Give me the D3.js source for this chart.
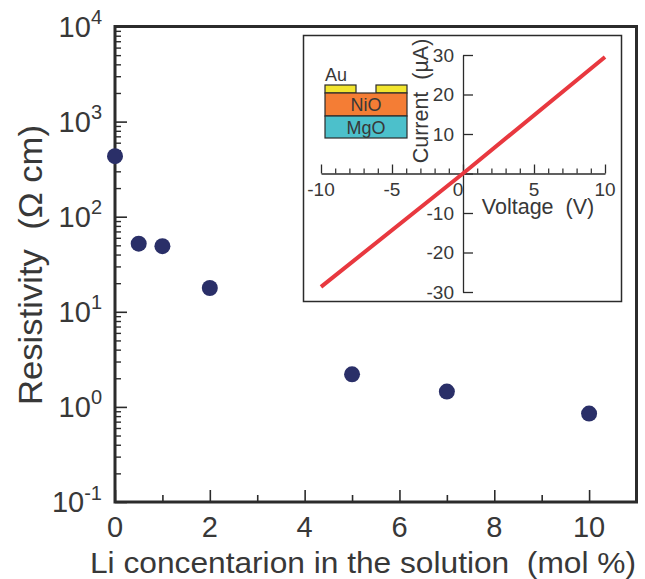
<!DOCTYPE html>
<html>
<head>
<meta charset="utf-8">
<script src="https://d3js.org/d3.v7.min.js"></script>
<style>
  html, body { margin: 0; padding: 0; background: #fff; }
  text { font-family: "Liberation Sans", Arial, sans-serif; fill: #383838; }
</style>
</head>
<body>
<div id="chart"></div>
<script>
// main plot: Li concentration vs resistivity
const liConc = [0, 0.5, 1, 2, 5, 7, 10];
const resistivity = [433, 52, 49, 17.8, 2.2, 1.45, 0.85];
const xMajor = [0, 2, 4, 6, 8, 10];
const xMinor = [1, 3, 5, 7, 9];
const decades = [-1, 0, 1, 2, 3, 4];

// inset: I-V curve
const voltage = [-10, 0, 10];
const current = [-28.7, 0, 29.5];
const vMajor = [-10, -5, 0, 5, 10];
const vMinor = d3.range(-10, 11).filter(d => d % 5 !== 0);
const iTicks = [-30, -20, -10, 0, 10, 20, 30];

const width = 645, height = 579;
const ink = "#2b2b2b";

const svg = d3.select("#chart").append("svg")
    .attr("width", width)
    .attr("height", height)
    .style("display", "block");

const x = d3.scaleLinear().domain([0, 11]).range([115, 636.5]);
const y = d3.scaleLog().domain([0.1, 10000]).range([502, 26.5]);

// minor log ticks 2..9 in every decade
const yMinor = [];
decades.slice(0, -1).forEach(e => {
	d3.range(2, 10).forEach(m => yMinor.push(m * Math.pow(10, e)));
});
const yMajor = decades.map(e => Math.pow(10, e));

function cleanAxis(g) {
	g.select(".domain").remove();
	g.selectAll(".tick line").attr("stroke", ink);
	g.selectAll(".tick text").remove();
}

svg.append("g")
	.attr("transform", "translate(0,502)")
	.call(d3.axisTop(x).tickValues(xMajor).tickSize(12).tickFormat(""))
	.call(cleanAxis)
	.selectAll("line").attr("stroke-width", 1.6);

svg.append("g")
	.attr("transform", "translate(0,502)")
	.call(d3.axisTop(x).tickValues(xMinor).tickSize(7).tickFormat(""))
	.call(cleanAxis)
	.selectAll("line").attr("stroke-width", 1.6);

svg.append("g")
	.attr("transform", "translate(115,0)")
	.call(d3.axisRight(y).tickValues(yMajor).tickSize(12).tickFormat(""))
	.call(cleanAxis)
	.selectAll("line").attr("stroke-width", 1.6);

svg.append("g")
	.attr("transform", "translate(115,0)")
	.call(d3.axisRight(y).tickValues(yMinor).tickSize(6).tickFormat(""))
	.call(cleanAxis)
	.selectAll("line").attr("stroke-width", 1.4);

svg.append("rect")
	.attr("x", x(0))
	.attr("y", y(10000))
	.attr("width", x(11) - x(0))
	.attr("height", y(0.1) - y(10000))
	.attr("fill", "none")
	.attr("stroke", ink)
	.attr("stroke-width", 3);

// tick labels
svg.append("g").selectAll("text")
	.data(xMajor)
	.join("text")
	.attr("x", d => x(d))
	.attr("y", 537)
	.attr("text-anchor", "middle")
	.attr("font-size", 29)
	.text(d => d);

const yLab = svg.append("g").selectAll("text")
	.data(decades)
	.join("text")
	.attr("x", 102)
	.attr("y", d => y(Math.pow(10, d)) + 10)
	.attr("text-anchor", "end")
	.attr("font-size", 29);
yLab.append("tspan").text("10");
yLab.append("tspan")
	.attr("dy", -12.5)
	.attr("font-size", 20)
	.text(d => d);

svg.append("text")
	.attr("x", 90)
	.attr("y", 573)
	.attr("font-size", 29)
	.attr("textLength", 546)
	.attr("lengthAdjust", "spacingAndGlyphs")
	.attr("xml:space", "preserve")
	.text("Li concentarion in the solution  (mol %)");

svg.append("text")
	.attr("transform", "translate(42,265) rotate(-90)")
	.attr("text-anchor", "middle")
	.attr("font-size", 33)
	.attr("textLength", 280)
	.attr("lengthAdjust", "spacingAndGlyphs")
	.attr("xml:space", "preserve")
	.text("Resistivity  (Ω cm)");

// data points
svg.append("g").selectAll("circle")
	.data(liConc)
	.join("circle")
	.attr("cx", d => x(d))
	.attr("cy", (d, i) => y(resistivity[i]))
	.attr("r", 8)
	.attr("fill", "#2a2f68");

// inset frame
svg.append("rect")
	.attr("x", 303.5)
	.attr("y", 35.5)
	.attr("width", 318)
	.attr("height", 266)
	.attr("fill", "#fff")
	.attr("stroke", ink)
	.attr("stroke-width", 1.5);

const vx = d3.scaleLinear().domain([-10, 10]).range([321, 605]);
const iy = d3.scaleLinear().domain([-30, 30]).range([292, 55]);

svg.append("g")
	.attr("transform", "translate(0," + iy(0) + ")")
	.call(d3.axisTop(vx).tickValues(vMajor).tickSize(9).tickFormat("").tickSizeOuter(0))
	.call(g => g.selectAll(".tick line").attr("stroke", ink).attr("stroke-width", 1.3))
	.call(g => g.select(".domain").attr("stroke", ink).attr("stroke-width", 1.3));

svg.append("g")
	.attr("transform", "translate(0," + iy(0) + ")")
	.call(d3.axisTop(vx).tickValues(vMinor).tickSize(5).tickFormat(""))
	.call(cleanAxis)
	.selectAll("line").attr("stroke-width", 1.2);

svg.append("g")
	.attr("transform", "translate(" + vx(0) + ",0)")
	.call(d3.axisRight(iy).tickValues(iTicks).tickSize(10).tickFormat("").tickSizeOuter(0))
	.call(g => g.selectAll(".tick line").attr("stroke", ink).attr("stroke-width", 1.3))
	.call(g => g.select(".domain").attr("stroke", ink).attr("stroke-width", 1.3));

// inset labels
svg.append("g").selectAll("text")
	.data(vMajor)
	.join("text")
	.attr("x", d => vx(d) + (d === 0 ? -5 : 0))
	.attr("y", iy(0) + 22.5)
	.attr("text-anchor", "middle")
	.attr("font-size", 19)
	.text(d => d);

svg.append("g").selectAll("text")
	.data(iTicks.filter(d => d !== 0))
	.join("text")
	.attr("x", vx(0) - 9)
	.attr("y", d => iy(d) + 6.5)
	.attr("text-anchor", "end")
	.attr("font-size", 19)
	.text(d => d);

svg.append("text")
	.attr("x", 538)
	.attr("y", 214)
	.attr("text-anchor", "middle")
	.attr("font-size", 21.5)
	.attr("xml:space", "preserve")
	.text("Voltage  (V)");

svg.append("text")
	.attr("transform", "translate(428,101) rotate(-90)")
	.attr("text-anchor", "middle")
	.attr("font-size", 21.5)
	.attr("xml:space", "preserve")
	.text("Current  (µA)");

// I-V curve
const line = d3.line()
	.x(d => vx(d))
	.y((d, i) => iy(current[i]));

svg.append("path")
	.datum(voltage)
	.attr("d", line)
	.attr("fill", "none")
	.attr("stroke", "#e8383f")
	.attr("stroke-width", 4);

// device stack sketch
const layers = [
	{ x: 325, y: 85, w: 31, h: 8, c: "#f2e52e" },
	{ x: 376, y: 85, w: 31, h: 8, c: "#f2e52e" },
	{ x: 325, y: 93, w: 82, h: 23, c: "#f47d35", t: "NiO" },
	{ x: 325, y: 116, w: 82, h: 22, c: "#4cc0cb", t: "MgO" }
];

svg.append("g").selectAll("rect")
	.data(layers)
	.join("rect")
	.attr("x", d => d.x)
	.attr("y", d => d.y)
	.attr("width", d => d.w)
	.attr("height", d => d.h)
	.attr("fill", d => d.c)
	.attr("stroke", ink)
	.attr("stroke-width", 1.2);

svg.append("g").selectAll("text")
	.data(layers.filter(d => d.t))
	.join("text")
	.attr("x", d => d.x + d.w / 2)
	.attr("y", d => d.y + d.h / 2 + 6.5)
	.attr("text-anchor", "middle")
	.attr("font-size", 18)
	.text(d => d.t);

svg.append("text")
	.attr("x", 325)
	.attr("y", 81)
	.attr("font-size", 18)
	.text("Au");
</script>
</body>
</html>
